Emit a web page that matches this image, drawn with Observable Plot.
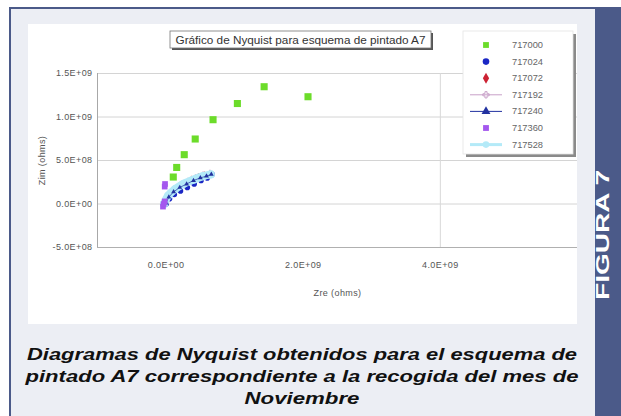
<!DOCTYPE html>
<html>
<head>
<meta charset="utf-8">
<script src="https://cdn.jsdelivr.net/npm/d3@7"></script>
<script src="https://cdn.jsdelivr.net/npm/@observablehq/plot@0.6"></script>
<style>
  html, body { margin: 0; padding: 0; background: #ffffff; }
  #page { position: relative; width: 621px; height: 416px; overflow: hidden; font-family: "Liberation Sans", Arial, sans-serif; }
  #panel { position: absolute; left: 9px; top: 7px; width: 612px; height: 409px; background: #eceef4; border-top: 2px solid #4b5a89; border-left: 2px solid #4b5a89; box-sizing: border-box; }
  #band { position: absolute; left: 595px; top: 7px; width: 26px; height: 409px; background: #4b5a89; }
  #chart { position: absolute; left: 28px; top: 24px; }
  #overlay { position: absolute; left: 0; top: 0; pointer-events: none; }
</style>
</head>
<body>
<div id="page">
  <div id="panel"></div>
  <div id="band"></div>
  <div id="chart"></div>
  <svg id="overlay" width="621" height="416"></svg>
</div>
<script>
// ---- Data ----
const seriesNames = ["717000", "717024", "717072", "717192", "717240", "717360", "717528"];
const seriesColors = ["#6cdc2a", "#1a26c4", "#cc2233", "#c8a0c8", "#2232a0", "#a458ee", "#b4eaf8"];

const x717000 = [0.105e9, 0.155e9, 0.265e9, 0.425e9, 0.685e9, 1.04e9, 1.43e9, 2.07e9];
const y717000 = [0.31e9, 0.42e9, 0.567e9, 0.747e9, 0.969e9, 1.155e9, 1.348e9, 1.233e9];

const x717024 = [0.00e9, 0.05e9, 0.12e9, 0.21e9, 0.31e9, 0.41e9, 0.51e9, 0.60e9, 0.67e9];
const y717024 = [0.00e9, 0.06e9, 0.11e9, 0.15e9, 0.19e9, 0.23e9, 0.27e9, 0.30e9, 0.34e9];

const x717072 = [0.00e9, 0.04e9, 0.10e9, 0.18e9, 0.27e9, 0.37e9, 0.47e9, 0.56e9];
const y717072 = [0.02e9, 0.09e9, 0.15e9, 0.20e9, 0.24e9, 0.28e9, 0.31e9, 0.33e9];

const x717192 = [0.00e9, 0.05e9, 0.12e9, 0.21e9, 0.32e9, 0.43e9, 0.54e9, 0.64e9];
const y717192 = [0.03e9, 0.11e9, 0.17e9, 0.22e9, 0.26e9, 0.30e9, 0.33e9, 0.35e9];

const x717240 = [0.00e9, 0.04e9, 0.11e9, 0.20e9, 0.30e9, 0.40e9, 0.50e9, 0.59e9, 0.66e9];
const y717240 = [0.01e9, 0.08e9, 0.14e9, 0.19e9, 0.23e9, 0.27e9, 0.30e9, 0.32e9, 0.34e9];

const x717360 = [-0.045e9, -0.035e9, -0.02e9, -0.02e9, -0.015e9];
const y717360 = [-0.03e9, 0.00e9, 0.03e9, 0.20e9, 0.23e9];

const x717528 = [-0.03e9, 0.03e9, 0.13e9, 0.25e9, 0.40e9, 0.54e9, 0.65e9];
const y717528 = [0.00e9, 0.095e9, 0.17e9, 0.23e9, 0.28e9, 0.32e9, 0.34e9];

const xTicks = [0, 2e9, 4e9];
const xTickLabels = ["0.0E+00", "2.0E+09", "4.0E+09"];
const yTicks = [-5e8, 0, 5e8, 1e9, 1.5e9];
const yTickLabels = ["-5.0E+08", "0.0E+00", "5.0E+08", "1.0E+09", "1.5E+09"];
const xDomain = [-1e9, 6e9];
const yDomain = [-5e8, 1.5e9];
const chartTitle = "Gráfico de Nyquist para esquema de pintado A7";
const xLabel = "Zre (ohms)";
const yLabel = "Zim (ohms)";
const captionLines = [
  "Diagramas de Nyquist obtenidos para el esquema de",
  "pintado A7 correspondiente a la recogida del mes de",
  "Noviembre"
];
const figureLabel = "FIGURA 7";

// ---- Build tables ----
const pts = (xs, ys) => xs.map((x, i) => ({x, y: ys[i]}));
const s000 = pts(x717000, y717000);
const s024 = pts(x717024, y717024);
const s072 = pts(x717072, y717072);
const s192 = pts(x717192, y717192);
const s240 = pts(x717240, y717240);
const s360 = pts(x717360, y717360);
const s528 = pts(x717528, y717528);

const tickFont = {fontSize: 9, fill: "#555"};

const chart = Plot.plot({
  width: 549,
  height: 300,
  marginLeft: 69,
  marginRight: 0,
  marginTop: 49,
  marginBottom: 77,
  style: {background: "white", fontFamily: "'Liberation Sans', Arial, sans-serif", fontSize: "9px", color: "#555", letterSpacing: "0.4px", overflow: "visible"},
  x: {domain: xDomain},
  y: {domain: yDomain},
  marks: [
    Plot.gridY(yTicks, {stroke: "#d4d4d4", strokeOpacity: 1}),
    Plot.ruleX([4e9], {y1: yDomain[0], y2: yDomain[1], stroke: "#d8d8d8"}),
    Plot.ruleX([xDomain[0]], {y1: yDomain[0], y2: yDomain[1], stroke: "#a8a8a8"}),
    Plot.ruleY([yDomain[0]], {stroke: "#b0b0b0"}),
    Plot.axisX(xTicks, {tickSize: 0, tickPadding: 14, tickFormat: (d) => xTickLabels[xTicks.indexOf(d)], label: xLabel, labelAnchor: "center", labelOffset: 48, labelArrow: "none", ...tickFont}),
    Plot.axisY(yTicks, {tickSize: 0, tickPadding: 5, tickFormat: (d) => yTickLabels[yTicks.indexOf(d)], label: yLabel, labelAnchor: "center", labelOffset: 59, labelArrow: "none", ...tickFont}),
    // series
    Plot.dot(s000, {x: "x", y: "y", symbol: "square", r: 4, fill: seriesColors[0]}),
    Plot.dot(s072, {x: "x", y: "y", symbol: "diamond", r: 2.5, fill: seriesColors[2]}),
    Plot.dot(s024, {x: "x", y: "y", r: 2.8, fill: seriesColors[1]}),
    Plot.line(s192, {x: "x", y: "y", stroke: seriesColors[3], strokeWidth: 1}),
    Plot.dot(s192, {x: "x", y: "y", symbol: "plus", r: 2.5, stroke: seriesColors[3]}),
    Plot.line(s528, {x: "x", y: "y", stroke: seriesColors[6], strokeWidth: 8, strokeLinecap: "round", curve: "catmull-rom"}),
    Plot.dot(s528, {x: "x", y: "y", r: 4, fill: seriesColors[6]}),
    Plot.line(s240, {x: "x", y: "y", stroke: seriesColors[4], strokeWidth: 1, strokeOpacity: 0.7}),
    Plot.dot(s240, {x: "x", y: "y", symbol: "triangle", r: 1.8, fill: seriesColors[4]}),
    Plot.dot(s360, {x: "x", y: "y", symbol: "square", r: 3.2, fill: seriesColors[5]})
  ]
});
document.getElementById("chart").appendChild(chart);

// ---- Overlay: title box, legend, caption, figure label ----
const ov = d3.select("#overlay");
const FONT = "'Liberation Sans', Arial, sans-serif";

// chart title box
ov.append("rect").attr("x", 172).attr("y", 33).attr("width", 261).attr("height", 17).attr("fill", "#555");
ov.append("rect").attr("x", 170).attr("y", 31).attr("width", 261).attr("height", 17).attr("fill", "white").attr("stroke", "#777").attr("stroke-width", 0.8);
ov.append("text").attr("x", 300.5).attr("y", 43.5).attr("text-anchor", "middle")
  .attr("font-family", FONT).attr("font-size", 10).attr("fill", "#333")
  .attr("textLength", 250).attr("lengthAdjust", "spacingAndGlyphs").text(chartTitle);

// legend box
ov.append("rect").attr("x", 466).attr("y", 34).attr("width", 110).attr("height", 123).attr("fill", "#8a8a8a");
ov.append("rect").attr("x", 463).attr("y", 31).attr("width", 110).attr("height", 123).attr("fill", "white").attr("stroke", "#e4e4e4").attr("stroke-width", 0.8);
const legendSymbols = ["square", "circle", "diamond", "plus", "triangle", "square", "circle"];
const legendLines = [false, false, false, true, true, false, true];
seriesNames.forEach((name, i) => {
  const cy = 45 + i * 16.6;
  const cx = 486;
  const col = seriesColors[i];
  if (legendLines[i]) {
    ov.append("line").attr("x1", 470).attr("x2", 502).attr("y1", cy).attr("y2", cy)
      .attr("stroke", col).attr("stroke-width", i === 6 ? 3 : 1);
  }
  const sym = {square: d3.symbolSquare, circle: d3.symbolCircle, diamond: d3.symbolDiamond, plus: d3.symbolCross, triangle: d3.symbolTriangle}[legendSymbols[i]];
  const path = ov.append("path").attr("transform", `translate(${cx},${cy})`).attr("d", d3.symbol(sym, i === 3 ? 22 : 34)());
  if (legendSymbols[i] === "plus") path.attr("fill", "none").attr("stroke", col);
  else path.attr("fill", col);
  ov.append("text").attr("x", 512).attr("y", cy + 3).attr("font-family", FONT).attr("font-size", 8.5)
    .attr("fill", "#666").attr("textLength", 31).attr("lengthAdjust", "spacingAndGlyphs").text(name);
});

// caption
const capLens = [550, 553, 115];
const capBase = [360, 382, 404];
captionLines.forEach((t, i) => {
  ov.append("text").attr("x", 302).attr("y", capBase[i]).attr("text-anchor", "middle")
    .attr("font-family", FONT).attr("font-size", 17).attr("font-weight", "bold").attr("font-style", "italic")
    .attr("fill", "#111").attr("textLength", capLens[i]).attr("lengthAdjust", "spacingAndGlyphs").text(t);
});

// figure label
ov.append("text").attr("transform", "translate(609,235) rotate(-90)").attr("text-anchor", "middle")
  .attr("font-family", FONT).attr("font-size", 18).attr("font-weight", "bold").attr("fill", "white")
  .attr("textLength", 130).attr("lengthAdjust", "spacingAndGlyphs").text(figureLabel);
</script>
</body>
</html>
